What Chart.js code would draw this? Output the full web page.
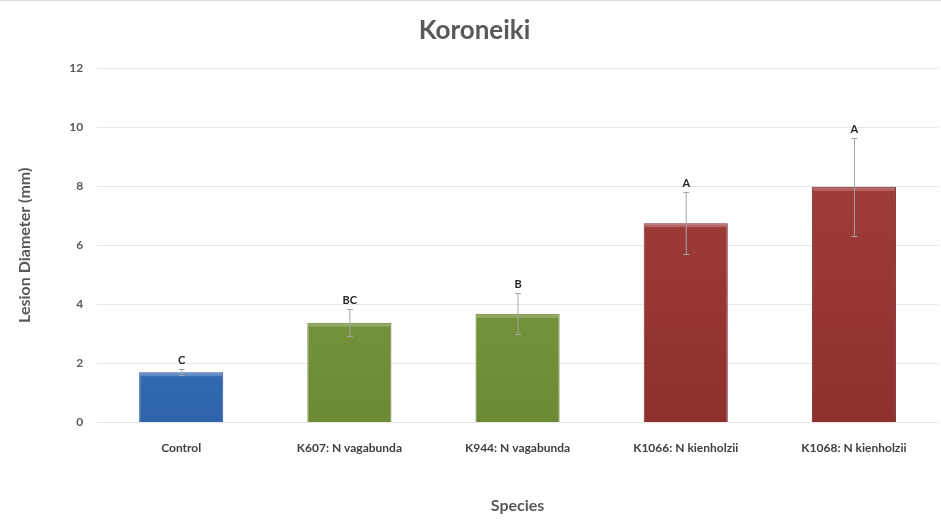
<!DOCTYPE html>
<html>
<head>
<meta charset="utf-8">
<title>Koroneiki</title>
<script src="https://cdn.jsdelivr.net/npm/chart.js@4/dist/chart.umd.min.js"></script>
<style>
    html, body { margin: 0; padding: 0; background: #fff; }
    #wrap { width: 941px; height: 531px; position: relative; box-sizing: border-box; border-top: 1px solid #d9d9d9; }
</style>
</head>
<body>
<div id="wrap"><canvas id="lesionChart" width="941" height="530"></canvas></div>
<script>
// Mean lesion diameter per isolate, with standard error and significance letters
const species = ['Control', 'K607: N vagabunda', 'K944: N vagabunda', 'K1066: N kienholzii', 'K1068: N kienholzii'];
const lesionMeans = [1.70, 3.38, 3.68, 6.75, 7.98];
const lesionErrors = [0.10, 0.45, 0.70, 1.05, 1.65];
const groupLetters = ['C', 'BC', 'B', 'A', 'A'];

// Fill colours per group: [top, bottom, edge]
const groupShades = [
    ['#4a87d6', '#2f64ad', '#2a5a9c'],
    ['#83a447', '#6c8a33', '#5f7a2c'],
    ['#a8423f', '#8e302e', '#7d2a28']
];
const barGroups = [0, 1, 1, 2, 2];

function shadeFor(i) {
    return groupShades[barGroups[i]];
}

function barGradient(context) {
    const chart = context.chart;
    const area = chart.chartArea;
    const shade = shadeFor(context.dataIndex);
    if (!area) return shade[0];
    const bar = chart.getDatasetMeta(0).data[context.dataIndex];
    const top = bar && bar.y ? bar.y : area.top;
    const g = chart.ctx.createLinearGradient(0, top, 0, area.bottom);
    g.addColorStop(0, shade[0]);
    g.addColorStop(1, shade[1]);
    return g;
}

// Error bars, bevel highlight and letters over each bar
const errorBarPlugin = {
    id: 'errorBars',
    afterDatasetsDraw(chart) {
        const ctx = chart.ctx;
        const yScale = chart.scales.y;
        const meta = chart.getDatasetMeta(0);
        ctx.save();
        meta.data.forEach((bar, i) => {
            const half = bar.width / 2;
            // light strip along the top edge
            ctx.fillStyle = 'rgba(255,255,255,0.22)';
            ctx.fillRect(bar.x - half + 1, bar.y + 1, bar.width - 2, 3);

            const hi = yScale.getPixelForValue(lesionMeans[i] + lesionErrors[i]);
            const lo = yScale.getPixelForValue(lesionMeans[i] - lesionErrors[i]);
            ctx.strokeStyle = '#a6a6a6';
            ctx.lineWidth = 1;
            ctx.beginPath();
            ctx.moveTo(bar.x + 0.5, hi);
            ctx.lineTo(bar.x + 0.5, lo);
            ctx.moveTo(bar.x - 2.5, Math.round(hi) + 0.5);
            ctx.lineTo(bar.x + 3.5, Math.round(hi) + 0.5);
            ctx.moveTo(bar.x - 2.5, Math.round(lo) + 0.5);
            ctx.lineTo(bar.x + 3.5, Math.round(lo) + 0.5);
            ctx.stroke();

            ctx.fillStyle = '#262626';
            ctx.font = 'bold 11px Lato';
            ctx.textAlign = 'center';
            ctx.textBaseline = 'bottom';
            ctx.fillText(groupLetters[i], bar.x + 0.5, hi - 3);
        });
        ctx.restore();
    }
};

const labelColor = '#595959';

new Chart(document.getElementById('lesionChart'), {
    type: 'bar',
    data: {
        labels: species,
        datasets: [{
            label: 'Lesion Diameter',
            data: lesionMeans,
            backgroundColor: barGradient,
            borderColor: (context) => shadeFor(context.dataIndex)[2],
            borderWidth: 1,
            categoryPercentage: 1,
            barPercentage: 0.5
        }]
    },
    options: {
        responsive: false,
        animation: false,
        layout: { padding: { left: 11, right: 3, top: 6, bottom: 12 } },
        plugins: {
            legend: { display: false },
            tooltip: { enabled: false },
            title: {
                display: true,
                text: 'Koroneiki',
                color: labelColor,
                font: { family: 'Lato', size: 26, weight: 'bold' },
                padding: { top: 8, bottom: 22 }
            }
        },
        scales: {
            x: {
                grid: { display: false },
                border: { display: false },
                ticks: {
                    color: '#404040',
                    font: { family: 'Lato', size: 12, weight: 'bold' },
                    padding: 11
                },
                title: {
                    display: true,
                    text: 'Species',
                    color: labelColor,
                    font: { family: 'Lato', size: 16, weight: 'bold' },
                    padding: { top: 29 }
                }
            },
            y: {
                min: 0,
                max: 12,
                ticks: {
                    stepSize: 2,
                    color: labelColor,
                    font: { family: 'Lato', size: 12, weight: 'bold' },
                    padding: 14
                },
                grid: { color: '#e8e8e8', drawTicks: false },
                border: { display: false },
                title: {
                    display: true,
                    text: 'Lesion Diameter (mm)',
                    color: labelColor,
                    font: { family: 'Lato', size: 16, weight: 'bold' },
                    padding: { bottom: 21 }
                }
            }
        }
    },
    plugins: [errorBarPlugin]
});
</script>
</body>
</html>
